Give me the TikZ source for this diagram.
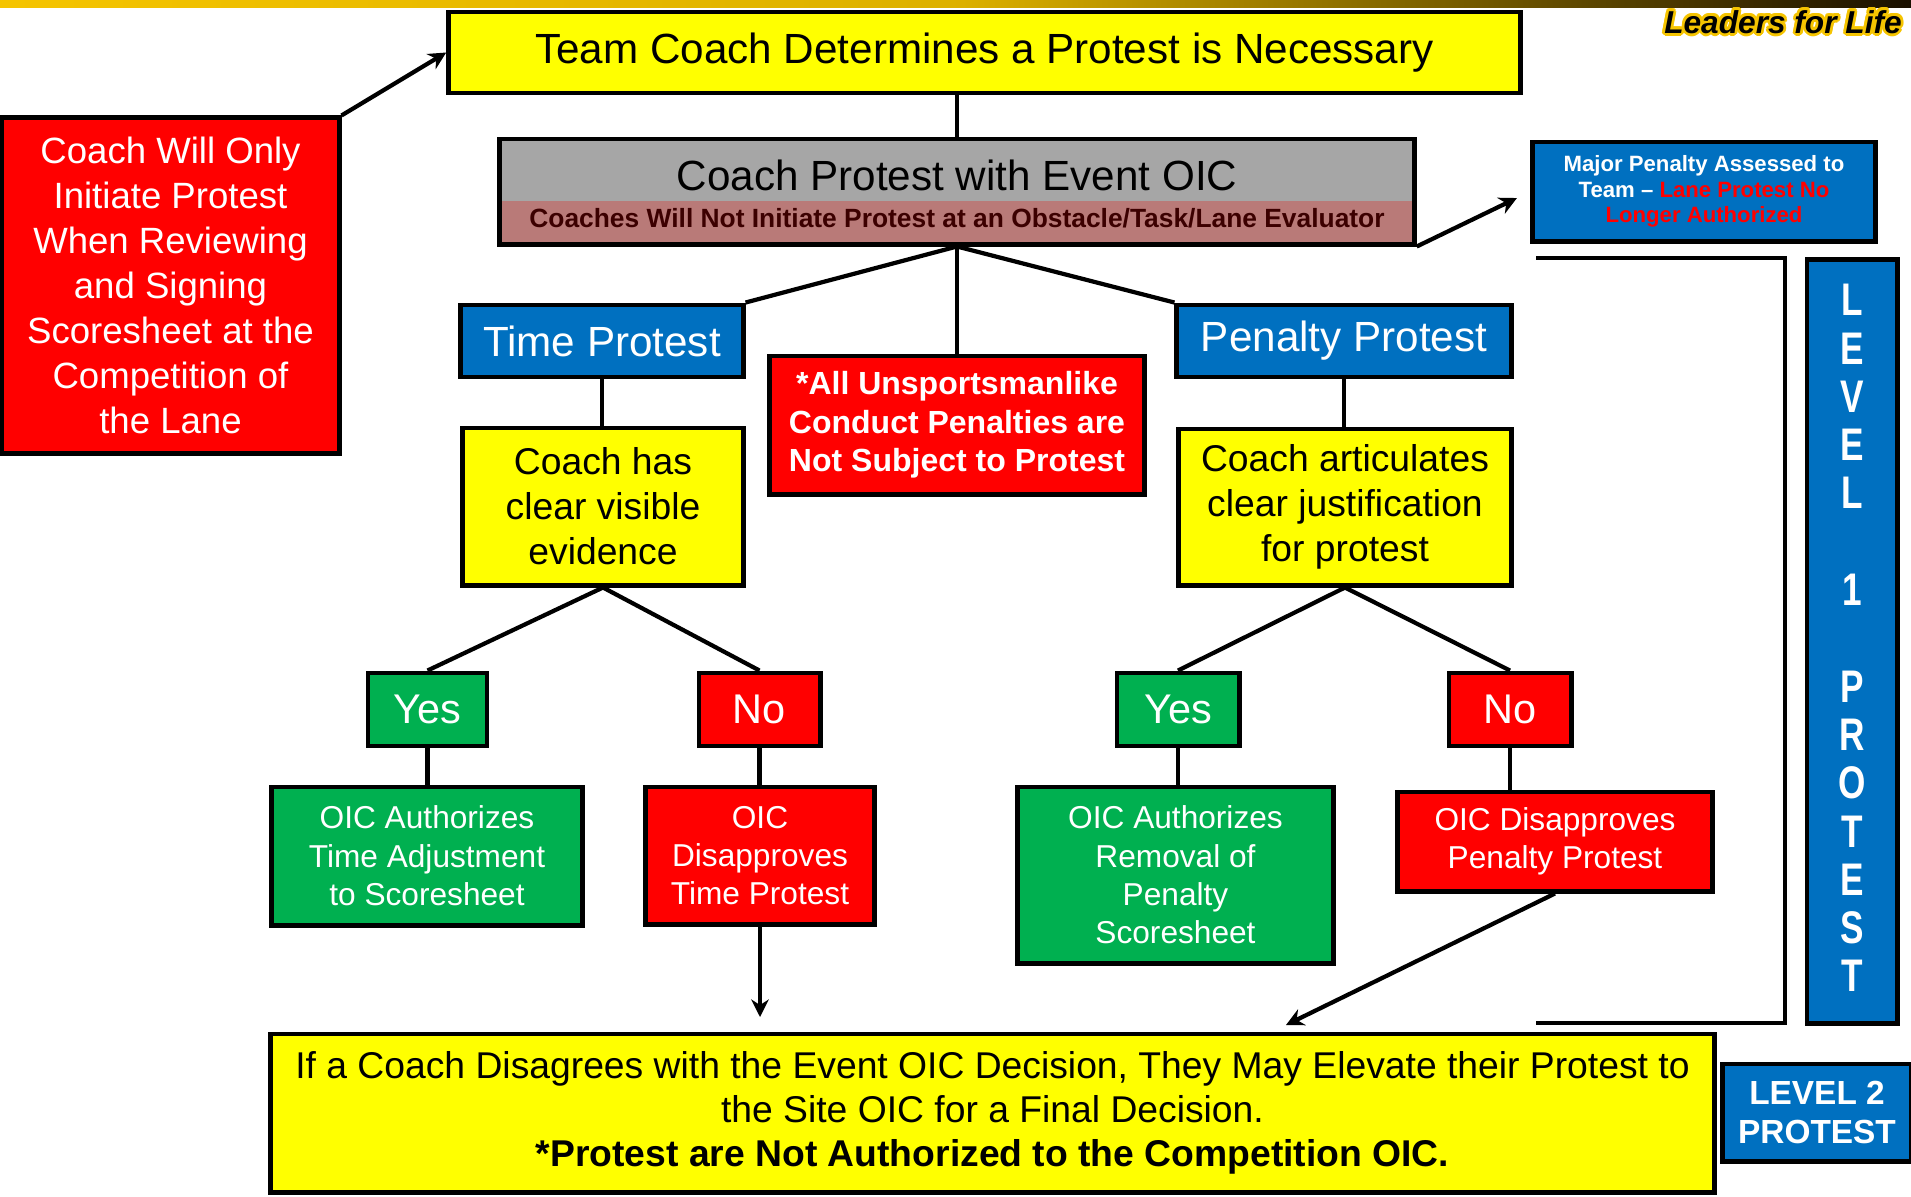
\documentclass[tikz,border=0pt]{standalone}
\usepackage{fontspec}
\setmainfont{Liberation Sans}
\usetikzlibrary{arrows.meta}
\definecolor{fyellow}{HTML}{FFFF00}
\definecolor{fred}{HTML}{FF0000}
\definecolor{fgreen}{HTML}{00B050}
\definecolor{fblue}{HTML}{0070C0}
\definecolor{fgray}{HTML}{A6A6A6}
\definecolor{frose}{HTML}{B97A78}
\definecolor{fmaroon}{HTML}{3C0000}
\definecolor{lgold}{HTML}{F5C400}
\definecolor{ldark}{HTML}{1A1000}
\newcommand{\fsz}[2]{\fontsize{#1}{#2}\selectfont}
\tikzset{
	box/.style 2 args={draw=black,line width=1.4pt,inner sep=2pt,align=center,minimum width=#1cm,minimum height=#2cm},
	ybox/.style={fill=fyellow},
	rbox/.style={fill=fred,text=white},
	gbox/.style={fill=fgreen,text=white},
	bbox/.style={fill=fblue,text=white},
	conn/.style={line width=1.2pt},
	arr/.style={conn,-{Stealth[length=5pt,width=5pt]}},
	lfl/.style={font=\bfseries\itshape\fsz{9}{11},inner sep=0pt}
}
\begin{document}
\begin{tikzpicture}[x=0.01cm,y=-0.01cm]
	\useasboundingbox (0,0) rectangle (1911,1196);
	\shade[left color=lgold,right color=lgold!90!black] (0,0) rectangle (960,7);
	\shade[left color=lgold!90!black,right color=ldark] (960,0) rectangle (1911,7);
	\foreach \a in {0,30,...,330}
		\node[lfl,text=lgold,xshift={0.8pt*cos(\a)},yshift={0.8pt*sin(\a)}] (lfo\a) at (1783,22) {Leaders for Life};
	\node[lfl] (lfl) at (1783,22) {Leaders for Life};

	\node[box={10.71}{0.81},ybox,font=\fsz{12}{14}] (top) at (984.5,52.5) {Team Coach Determines a Protest is Necessary};
	\node[box={3.37}{3.35},rbox,font=\fsz{10.4}{12.8}] (onlyrev) at (170.5,285.5) {Coach Will Only\\Initiate Protest\\When Reviewing\\and Signing\\Scoresheet at the\\Competition of\\the Lane};
	\node[box={9.14}{1.05},fill=fgray,path picture={\fill[frose] (path picture bounding box.south west) rectangle ([yshift=0.43cm]path picture bounding box.south east);}] (oic) at (957,191.5) {};
	\node[font=\fsz{12}{14}] (oict) at (957,175) {Coach Protest with Event OIC};
	\node[font=\bfseries\fsz{7.5}{9},text=fmaroon] (oics) at (957,218) {Coaches Will Not Initiate Protest at an Obstacle/Task/Lane Evaluator};
	\node[box={3.42}{0.99},bbox,font=\bfseries\fsz{6.3}{7.3}] (major) at (1704,191.5) {Major Penalty Assessed to\\Team -- \textcolor{fred}{Lane Protest No}\\\textcolor{fred}{Longer Authorized}};

	\node[box={2.82}{0.72},bbox,font=\fsz{12}{14}] (timep) at (602,341) {Time Protest};
	\node[box={3.34}{0.72},bbox,font=\fsz{12}{14}] (penp) at (1344,341) {Penalty Protest};
	\node[box={3.75}{1.38},rbox,font=\bfseries\fsz{9.1}{10.9}] (unsport) at (957,425) {*All Unsportsmanlike\\Conduct Penalties are\\Not Subject to Protest};
	\node[box={2.80}{1.57},ybox,font=\fsz{10.6}{12.8}] (evid) at (603,506.5) {Coach has\\clear visible\\evidence};
	\node[box={3.32}{1.56},ybox,font=\fsz{10.6}{12.8}] (justif) at (1345,507) {Coach articulates\\clear justification\\for protest};

	\node[box={1.19}{0.73},gbox,font=\fsz{11.8}{14}] (yes1) at (427.5,709.5) {Yes};
	\node[box={1.21}{0.73},rbox,font=\fsz{11.8}{14}] (no1) at (759.5,709.5) {No};
	\node[box={1.22}{0.73},gbox,font=\fsz{11.8}{14}] (yes2) at (1178,709.5) {Yes};
	\node[box={1.22}{0.73},rbox,font=\fsz{11.8}{14}] (no2) at (1510,709.5) {No};

	\node[box={3.10}{1.38},gbox,font=\fsz{9}{10.9}] (oicta) at (427,856) {OIC Authorizes\\Time Adjustment\\to Scoresheet};
	\node[box={2.28}{1.37},rbox,font=\fsz{9}{10.9}] (oictd) at (760,855.5) {OIC\\Disapproves\\Time Protest};
	\node[box={3.15}{1.76},gbox,font=\fsz{9}{10.9}] (oicpa) at (1175.5,875) {OIC Authorizes\\Removal of\\Penalty\\Scoresheet};
	\node[box={3.14}{0.99},rbox,font=\fsz{9}{10.9}] (oicpd) at (1555,841.5) {OIC Disapproves\\Penalty Protest};

	\node[box={14.43}{1.58},ybox,font=\fsz{10.6}{12.5}] (elevate) at (992.5,1113) {If a Coach Disagrees with the Event OIC Decision, They May Elevate their Protest to\\the Site OIC for a Final Decision.\\\textbf{*Protest are Not Authorized to the Competition OIC.}};
	\node[box={1.88}{0.97},bbox,font=\bfseries\fsz{9.5}{11.2}] (lvl2) at (1817,1112.5) {LEVEL 2\\PROTEST};
	\node[box={0.90}{7.63},bbox] (lvl1) at (1852,641.5) {};
	\foreach \ch/\k in {L/0,E/1,V/2,E/3,L/4,1/6,P/8,R/9,O/10,T/11,E/12,S/13,T/14}
		\node[text=white,font=\bfseries\fsz{10}{12}] (lv\k) at (1852,{300+48.3*\k}) {\scalebox{1}[1.3]{\ch}};
	\draw[conn] (1536,258) -- (1785,258) -- (1785,1023) -- (1536,1023);

	\draw[arr] (onlyrev.north east) -- (top.west);
	\draw[conn] (oic.north |- top.south) -- (oic.north);
	\draw[arr,shorten >=0.15cm] (oic.south east) -- (major.west);
	\draw[conn] (timep.north east) -- (oic.south) -- (penp.north west);
	\draw[conn] (oic.south) -- (unsport.north);
	\draw[conn] (timep.south) -- (timep.south |- evid.north);
	\draw[conn] (penp.south) -- (penp.south |- justif.north);
	\draw[conn] (yes1.north) -- (evid.south) -- (no1.north);
	\draw[conn] (yes2.north) -- (justif.south) -- (no2.north);
	\draw[conn] (yes1.south) -- (yes1.south |- oicta.north);
	\draw[conn] (no1.south) -- (no1.south |- oictd.north);
	\draw[conn] (yes2.south) -- (yes2.south |- oicpa.north);
	\draw[conn] (no2.south) -- (no2.south |- oicpd.north);
	\coordinate (tdend) at (760,1017);
	\coordinate (pdend) at (1286,1025);
	\draw[arr] (oictd.south) -- (tdend);
	\draw[arr] (oicpd.south) -- (pdend);
\end{tikzpicture}
\end{document}
